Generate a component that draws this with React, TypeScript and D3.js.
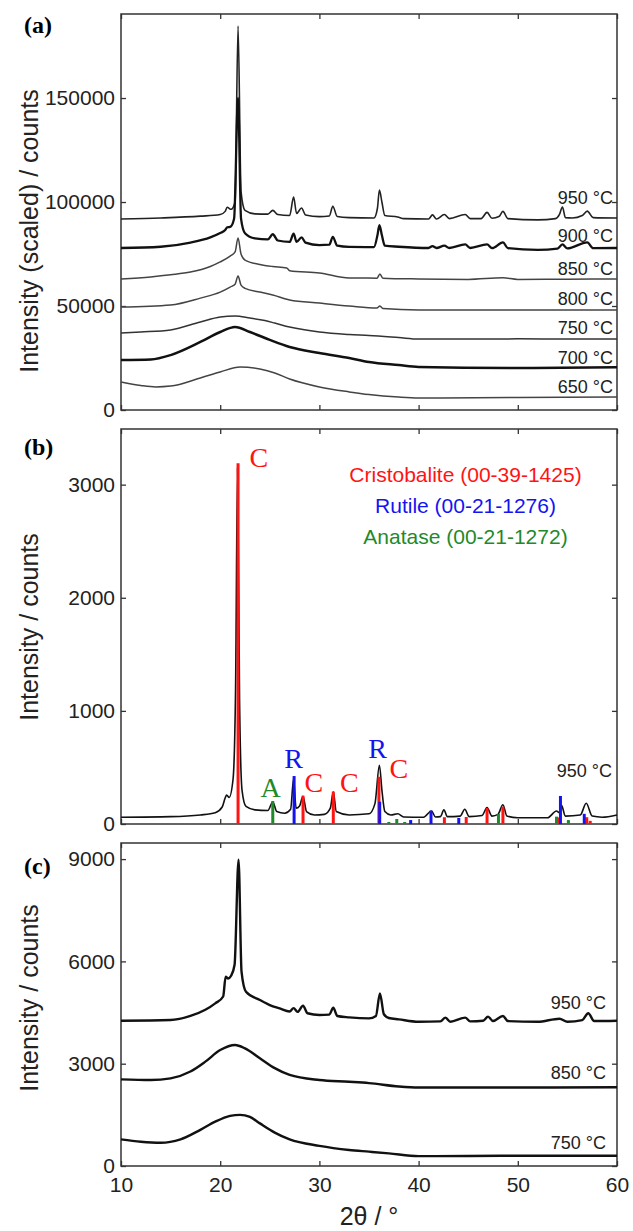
import React, { useRef, useEffect } from 'react';
import * as d3 from 'd3';

type Pt = [number, number];

const xTicks = [10, 20, 30, 40, 50, 60];

// (a) scaled patterns, 2θ vs counts
const a950: Pt[] = [[10, 91800], [14, 92300], [18, 93200], [20, 94000], [20.5, 95500], [20.7, 97500], [21.1, 96500], [21.5, 100000], [21.8, 184600], [22.1, 105000], [22.5, 96000], [23.5, 94300], [24.8, 94200], [25.3, 96000], [25.8, 94000], [27.0, 93500], [27.4, 102400], [27.7, 94500], [28.2, 97100], [28.6, 93800], [30, 93000], [31.0, 93300], [31.35, 98000], [31.8, 93000], [33, 92500], [35.5, 92300], [35.85, 97000], [36.05, 105800], [36.3, 100000], [36.6, 93500], [37.9, 92800], [38.5, 92000], [41, 91800], [41.4, 93800], [41.8, 91800], [42.6, 94000], [43.1, 92000], [44.7, 94000], [45.2, 92000], [46.3, 92000], [46.9, 95000], [47.4, 92200], [48.1, 93000], [48.5, 95500], [49.0, 92000], [52, 91400], [53.8, 92000], [54.2, 94000], [54.5, 97600], [54.8, 92500], [55.5, 92300], [56.5, 93500], [57.0, 95600], [57.6, 92500], [60, 92300]];
const a900: Pt[] = [[10, 77900], [14, 78500], [17, 80500], [19, 83000], [20, 85100], [20.5, 86500], [20.7, 87800], [21.0, 88000], [21.4, 92000], [21.8, 150000], [22.1, 92000], [22.5, 85000], [23.5, 82500], [24.8, 82000], [25.3, 84500], [25.8, 81500], [27.0, 80800], [27.4, 84800], [27.7, 80800], [28.2, 83000], [28.6, 80500], [30, 79300], [31.0, 79500], [31.35, 83200], [31.8, 79000], [33, 78400], [35.5, 78300], [35.85, 84000], [36.05, 88900], [36.3, 84000], [36.6, 79000], [38, 78500], [41, 77900], [41.4, 78800], [41.8, 77900], [42.6, 79000], [43.1, 77900], [44.7, 79600], [45.2, 77900], [46.9, 79600], [47.4, 77800], [48.5, 80600], [49.0, 77800], [52, 77000], [54, 77600], [54.5, 79600], [55, 77700], [57.0, 80600], [57.6, 77800], [60, 77900]];
const a850: Pt[] = [[10, 63000], [13, 64000], [15, 65000], [17, 66300], [19, 69000], [20, 71200], [21, 74000], [21.5, 76000], [21.8, 82700], [22.1, 75000], [22.5, 72100], [24, 70000], [25.3, 69000], [26.7, 68300], [27.0, 67000], [30, 65900], [33, 63500], [35.8, 63400], [36.1, 65400], [36.4, 63400], [40, 63000], [45, 62800], [48.5, 63600], [50, 62800], [55, 62900], [60, 63000]];
const a800: Pt[] = [[10, 49500], [15, 50500], [18, 53800], [20, 56700], [21, 59100], [21.5, 60500], [21.8, 64400], [22.1, 60000], [22.5, 58500], [24, 56700], [25.3, 55300], [27, 52900], [30, 51400], [33, 50000], [35.8, 49000], [36.1, 50000], [36.4, 48800], [40, 48100], [50, 48100], [60, 48100]];
const a750: Pt[] = [[10, 37000], [12, 37500], [15, 38500], [18, 42300], [20, 44700], [21.5, 45200], [23, 44200], [24.5, 43000], [25.5, 41800], [27, 39900], [30, 37500], [33, 36300], [35, 35800], [38, 34800], [40, 34100], [45, 34100], [50, 34200], [55, 34100], [60, 34100]];
const a700: Pt[] = [[10, 24000], [13, 24300], [15, 26400], [18, 32700], [20, 37500], [21.5, 39900], [23, 37500], [25, 33700], [27, 30300], [30, 27400], [33, 25000], [35, 23100], [38, 21600], [40, 20700], [50, 20200], [60, 20500]];
const a650: Pt[] = [[10, 13500], [12, 11800], [13.5, 11100], [15, 11500], [18, 15400], [20, 18300], [22, 20700], [24, 19700], [25.5, 17800], [27, 14900], [30, 11100], [33, 8700], [35, 7400], [38, 6200], [40, 5800], [50, 6000], [60, 6250]];
const aLabels = ['950 °C', '900 °C', '850 °C', '800 °C', '750 °C', '700 °C', '650 °C'];

// (b) 950 °C pattern with reference lines
const b950: Pt[] = [[10, 60], [15, 65], [18, 80], [19.5, 100], [20.2, 150], [20.5, 230], [20.65, 256], [20.9, 235], [21.3, 400], [21.55, 1200], [21.75, 3150], [21.95, 1100], [22.2, 300], [22.6, 155], [23.5, 125], [24.8, 120], [25.3, 195], [25.7, 110], [26.5, 95], [27.1, 130], [27.4, 400], [27.65, 140], [28.0, 160], [28.35, 245], [28.7, 110], [29.5, 80], [30.5, 85], [31.1, 140], [31.4, 285], [31.7, 110], [33, 80], [35, 90], [35.6, 180], [36.05, 520], [36.3, 300], [36.6, 110], [37.2, 80], [37.9, 90], [38.5, 62], [40.5, 60], [41.3, 115], [41.7, 62], [42.2, 65], [42.55, 125], [42.9, 65], [44.2, 70], [44.65, 130], [45.1, 65], [46.4, 75], [46.9, 145], [47.4, 70], [48.0, 85], [48.5, 170], [48.9, 70], [50, 55], [53, 55], [53.9, 115], [54.2, 100], [54.4, 165], [54.8, 70], [56.3, 80], [56.9, 183], [57.5, 70], [58.5, 60], [60, 80]];
const cristobalite: Pt[] = [[21.8, 3190], [28.35, 250], [31.4, 286], [36.0, 418], [42.6, 60], [44.8, 62], [46.9, 141], [48.5, 153], [54.0, 58], [56.95, 60], [57.3, 28]];
const rutile: Pt[] = [[27.45, 424], [36.08, 197], [39.2, 35], [41.25, 118], [44.05, 53], [54.3, 248], [56.7, 90]];
const anatase: Pt[] = [[25.3, 203], [37.0, 18], [37.8, 44], [38.6, 18], [48.05, 88], [53.9, 65], [55.1, 35]];
const peakMarks = [
  { t: 'C', x: 23.9, y: 3157, c: 'red' },
  { t: 'A', x: 25.07, y: 236, c: 'green' },
  { t: 'R', x: 27.39, y: 492, c: 'blue' },
  { t: 'C', x: 29.43, y: 286, c: 'red' },
  { t: 'C', x: 33.03, y: 286, c: 'red' },
  { t: 'R', x: 35.86, y: 581, c: 'blue' },
  { t: 'C', x: 38.02, y: 404, c: 'red' },
];
const legendNames = ['Cristobalite (00-39-1425)', 'Rutile (00-21-1276)', 'Anatase (00-21-1272)'];

// (c) unscaled patterns
const c950: Pt[] = [[10, 4260], [15, 4280], [17, 4400], [18.5, 4580], [19.5, 4770], [20.3, 4970], [20.55, 5550], [20.8, 5500], [21.1, 5580], [21.45, 5900], [21.85, 8980], [22.15, 5700], [22.6, 5110], [24, 4870], [25, 4720], [26, 4620], [27, 4530], [27.4, 4630], [27.8, 4520], [28.35, 4700], [28.8, 4480], [30, 4430], [31.0, 4440], [31.4, 4640], [31.8, 4400], [33, 4360], [35, 4330], [35.7, 4400], [36.1, 5060], [36.5, 4450], [37, 4340], [38, 4300], [40, 4230], [42.2, 4240], [42.7, 4350], [43.2, 4230], [44.7, 4350], [45.2, 4240], [46.5, 4260], [47, 4380], [47.5, 4250], [48.5, 4400], [49, 4250], [52, 4230], [54.2, 4320], [55, 4230], [56.5, 4280], [57.1, 4480], [57.7, 4250], [60, 4260]];
const c850: Pt[] = [[10, 2540], [13, 2520], [15, 2570], [17, 2770], [18.5, 3060], [20, 3400], [21.5, 3550], [22.5, 3450], [24, 3160], [25.5, 2870], [27, 2670], [30, 2520], [33, 2470], [35, 2430], [38, 2330], [40, 2300], [50, 2300], [60, 2310]];
const c750: Pt[] = [[10, 780], [12, 710], [14, 680], [16, 780], [18, 1060], [19.5, 1300], [21, 1470], [22, 1500], [23, 1440], [24, 1250], [25.5, 980], [27, 780], [30, 590], [33, 470], [35, 420], [37, 370], [40, 290], [50, 300], [60, 300]];
const cLabels = ['950 °C', '850 °C', '750 °C'];

const SANS = 'Liberation Sans, Arial, sans-serif';
const SERIF = 'Liberation Serif, Times New Roman, serif';
const COLORS: Record<string, string> = { red: '#ff1414', blue: '#1414f0', green: '#1e8a2a' };

function App() {
  const svgRef = useRef<SVGSVGElement>(null);

  useEffect(() => {
    const svg = d3.select(svgRef.current);
    svg.selectAll('*').remove();

    const x = d3.scaleLinear().domain([10, 60]).range([121, 617]);

    const panels = [
      { tag: '(a)', top: 14, bottom: 410, yMax: 190400, yTicks: [0, 50000, 100000, 150000], yLabel: 'Intensity (scaled) / counts', tagY: 33, labelY: 231 },
      { tag: '(b)', top: 429, bottom: 824, yMax: 3492, yTicks: [0, 1000, 2000, 3000], yLabel: 'Intensity / counts', tagY: 455, labelY: 627 },
      { tag: '(c)', top: 843, bottom: 1166, yMax: 9472, yTicks: [0, 3000, 6000, 9000], yLabel: 'Intensity / counts', tagY: 874, labelY: 998 },
    ];

    const scales = panels.map(p => {
      const y = d3.scaleLinear().domain([0, p.yMax]).range([p.bottom, p.top]);
      const g = svg.append('g');
      const isC = p.tag === '(c)';

      // ticks all round, pointing in
      const axes = [
        { ax: d3.axisLeft(y).tickValues(p.yTicks).tickSize(-5).tickPadding(6).tickFormat(d3.format('d') as any), tr: `translate(121,0)` },
        { ax: d3.axisRight(y).tickValues(p.yTicks).tickSize(-5).tickFormat(() => ''), tr: `translate(617,0)` },
        { ax: d3.axisTop(x).tickValues(xTicks).tickSize(-5).tickFormat(() => ''), tr: `translate(0,${p.top})` },
        { ax: d3.axisBottom(x).tickValues(xTicks).tickSize(-5).tickPadding(11).tickFormat(isC ? (d3.format('d') as any) : () => ''), tr: `translate(0,${p.bottom})` },
      ];
      axes.forEach(a => {
        const ag = g.append('g').attr('transform', a.tr).call(a.ax as any);
        ag.select('.domain').remove();
        ag.selectAll('line').attr('stroke', '#333').attr('stroke-width', 1.3);
        ag.selectAll('text').attr('font-family', SANS).attr('font-size', 21).attr('fill', '#222');
      });

      g.append('rect')
        .attr('x', 121).attr('y', p.top)
        .attr('width', 496).attr('height', p.bottom - p.top)
        .attr('fill', 'none').attr('stroke', '#333').attr('stroke-width', 1.5);

      g.append('text')
        .attr('transform', `translate(38,${p.labelY}) rotate(-90)`)
        .attr('text-anchor', 'middle')
        .attr('font-family', SANS).attr('font-size', 25).attr('fill', '#222')
        .text(p.yLabel);

      g.append('text')
        .attr('x', 24).attr('y', p.tagY)
        .attr('font-family', SERIF).attr('font-weight', 'bold').attr('font-size', 24)
        .text(p.tag);
      return y;
    });

    const line = (y: d3.ScaleLinear<number, number>) => d3.line<Pt>()
      .x(d => x(d[0]))
      .y(d => y(d[1]))
      .curve(d3.curveMonotoneX);

    const drawCurve = (y: any, data: Pt[], w: number, col: string) => {
      svg.append('path').datum(data)
        .attr('d', line(y))
        .attr('fill', 'none').attr('stroke', col)
        .attr('stroke-width', w).attr('stroke-linejoin', 'round');
    };

    const tempLabel = (y: any, data: Pt[], label: string, off: number, rightX: number) => {
      svg.append('text')
        .attr('x', rightX).attr('y', y(data[data.length - 1][1]) - off)
        .attr('text-anchor', 'end')
        .attr('font-family', SANS).attr('font-size', 18).attr('fill', '#222')
        .text(label);
    };

    // (a)
    const ya = scales[0];
    const aSeries = [a950, a900, a850, a800, a750, a700, a650];
    const aWidths = [1.6, 2.3, 1.5, 1.5, 1.5, 2.5, 1.5];
    const aCols = ['#222', '#111', '#444', '#444', '#333', '#111', '#444'];
    const aOff = [14, 6, 4, 5, 5, 3, 4];
    aSeries.forEach((s, i) => {
      drawCurve(ya, s, aWidths[i], aCols[i]);
      tempLabel(ya, s, aLabels[i], aOff[i], 613);
    });

    // (b)
    const yb = scales[1];
    drawCurve(yb, b950, 1.6, '#111');
    const bars = [
      { data: cristobalite, col: COLORS.red },
      { data: anatase, col: COLORS.green },
      { data: rutile, col: COLORS.blue },
    ];
    bars.forEach(b => {
      svg.append('g').selectAll('line')
        .data(b.data)
        .enter().append('line')
        .attr('x1', d => x(d[0])).attr('x2', d => x(d[0]))
        .attr('y1', yb(0)).attr('y2', d => yb(d[1]))
        .attr('stroke', b.col).attr('stroke-width', 3);
    });
    tempLabel(yb, b950, '950 °C', 38, 612);

    svg.append('g').selectAll('text')
      .data(peakMarks)
      .enter().append('text')
      .attr('x', d => x(d.x)).attr('y', d => yb(d.y))
      .attr('text-anchor', 'middle')
      .attr('font-family', SERIF).attr('font-size', 28)
      .attr('fill', d => COLORS[d.c])
      .text(d => d.t);

    const legendCols = [COLORS.red, COLORS.blue, COLORS.green];
    svg.append('g').selectAll('text')
      .data(legendNames)
      .enter().append('text')
      .attr('x', 465.5).attr('y', (d, i) => 482 + i * 31)
      .attr('text-anchor', 'middle')
      .attr('font-family', SANS).attr('font-size', 21)
      .attr('fill', (d, i) => legendCols[i])
      .text(d => d);

    // (c)
    const yc = scales[2];
    const cSeries = [c950, c850, c750];
    const cOff = [12, 8, 7];
    cSeries.forEach((s, i) => {
      drawCurve(yc, s, 2.4, '#111');
      tempLabel(yc, s, cLabels[i], cOff[i], 606);
    });

    svg.append('text')
      .attr('x', 369).attr('y', 1225)
      .attr('text-anchor', 'middle')
      .attr('font-family', SANS).attr('font-size', 25).attr('fill', '#222')
      .text('2θ / °');
  }, []);

  return (
    <svg ref={svgRef} width={633} height={1231}
      style={{ position: 'absolute', left: 0, top: 0, background: '#fff' }} />
  );
}

export default App;
